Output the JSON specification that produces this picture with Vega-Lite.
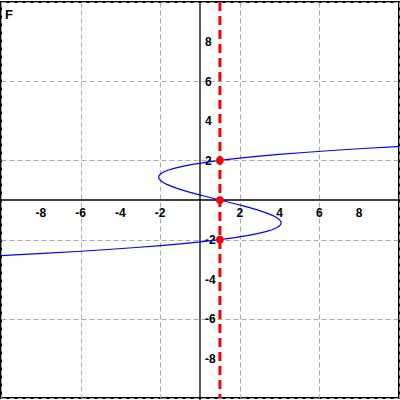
{
  "$schema": "https://vega.github.io/schema/vega-lite/v6.json",
  "width": 400,
  "height": 400,
  "padding": 0,
  "autosize": {"type": "fit", "contains": "padding"},
  "background": "white",
  "view": {"stroke": "black", "strokeWidth": 2},
  "config": {"font": "Liberation Sans"},
  "datasets": {
    "curve": [
      {"cy": -2.9, "cx": -11.789}, {"cy": -2.8, "cx": -9.752}, {"cy": -2.7, "cx": -7.883}, {"cy": -2.6, "cx": -6.176},
      {"cy": -2.5, "cx": -4.625}, {"cy": -2.4, "cx": -3.224}, {"cy": -2.3, "cx": -1.967}, {"cy": -2.2, "cx": -0.848},
      {"cy": -2.1, "cx": 0.139}, {"cy": -2.0, "cx": 1.0}, {"cy": -1.9, "cx": 1.741}, {"cy": -1.8, "cx": 2.368},
      {"cy": -1.7, "cx": 2.887}, {"cy": -1.6, "cx": 3.304}, {"cy": -1.5, "cx": 3.625}, {"cy": -1.4, "cx": 3.856},
      {"cy": -1.3, "cx": 4.003}, {"cy": -1.2, "cx": 4.072}, {"cy": -1.1, "cx": 4.069}, {"cy": -1.0, "cx": 4.0},
      {"cy": -0.9, "cx": 3.871}, {"cy": -0.8, "cx": 3.688}, {"cy": -0.7, "cx": 3.457}, {"cy": -0.6, "cx": 3.184},
      {"cy": -0.5, "cx": 2.875}, {"cy": -0.4, "cx": 2.536}, {"cy": -0.3, "cx": 2.173}, {"cy": -0.2, "cx": 1.792},
      {"cy": -0.1, "cx": 1.399}, {"cy": 0.0, "cx": 1.0}, {"cy": 0.1, "cx": 0.601}, {"cy": 0.2, "cx": 0.208},
      {"cy": 0.3, "cx": -0.173}, {"cy": 0.4, "cx": -0.536}, {"cy": 0.5, "cx": -0.875}, {"cy": 0.6, "cx": -1.184},
      {"cy": 0.7, "cx": -1.457}, {"cy": 0.8, "cx": -1.688}, {"cy": 0.9, "cx": -1.871}, {"cy": 1.0, "cx": -2.0},
      {"cy": 1.1, "cx": -2.069}, {"cy": 1.2, "cx": -2.072}, {"cy": 1.3, "cx": -2.003}, {"cy": 1.4, "cx": -1.856},
      {"cy": 1.5, "cx": -1.625}, {"cy": 1.6, "cx": -1.304}, {"cy": 1.7, "cx": -0.887}, {"cy": 1.8, "cx": -0.368},
      {"cy": 1.9, "cx": 0.259}, {"cy": 2.0, "cx": 1.0}, {"cy": 2.1, "cx": 1.861}, {"cy": 2.2, "cx": 2.848},
      {"cy": 2.3, "cx": 3.967}, {"cy": 2.4, "cx": 5.224}, {"cy": 2.5, "cx": 6.625}, {"cy": 2.6, "cx": 8.176},
      {"cy": 2.7, "cx": 9.883}, {"cy": 2.8, "cx": 11.752}
    ],
    "xlabels": [
      {"v": -8, "t": "-8"}, {"v": -6, "t": "-6"}, {"v": -4, "t": "-4"}, {"v": -2, "t": "-2"},
      {"v": 2, "t": "2"}, {"v": 4, "t": "4"}, {"v": 6, "t": "6"}, {"v": 8, "t": "8"}
    ],
    "ylabels": [
      {"v": -8, "t": "-8"}, {"v": -6, "t": "-6"}, {"v": -4, "t": "-4"}, {"v": -2, "t": "-2"},
      {"v": 2, "t": "2"}, {"v": 4, "t": "4"}, {"v": 6, "t": "6"}, {"v": 8, "t": "8"}
    ],
    "pts": [{"px": 1, "py": 2}, {"px": 1, "py": 0}, {"px": 1, "py": -2}],
    "origin": [{"o": 0, "vx": 1, "name": "F", "left": -10, "top": 10}]
  },
  "layer": [
    {
      "data": {"name": "origin"},
      "mark": {"type": "rule", "color": "black", "strokeWidth": 1.3},
      "encoding": {
        "x": {"field": "o", "type": "quantitative", "scale": {"domain": [-10, 10], "nice": false, "zero": false},
          "axis": {"grid": true, "values": [-10, -8, -6, -4, -2, 0, 2, 4, 6, 8, 10], "gridDash": [5, 3], "gridColor": "#aaaaaa", "gridOpacity": 1, "gridWidth": 1, "labels": false, "ticks": false, "domain": false, "title": null}},
        "y": {"value": 0},
        "y2": {"value": 400}
      }
    },
    {
      "data": {"name": "origin"},
      "mark": {"type": "rule", "color": "black", "strokeWidth": 1.3},
      "encoding": {
        "y": {"field": "o", "type": "quantitative", "scale": {"domain": [-10, 10], "nice": false, "zero": false},
          "axis": {"grid": true, "values": [-10, -8, -6, -4, -2, 0, 2, 4, 6, 8, 10], "gridDash": [5, 3], "gridColor": "#aaaaaa", "gridOpacity": 1, "gridWidth": 1, "labels": false, "ticks": false, "domain": false, "title": null}},
        "x": {"value": 0},
        "x2": {"value": 400}
      }
    },
    {
      "data": {"name": "xlabels"},
      "mark": {"type": "text", "fontWeight": "bold", "fontSize": 12, "align": "center", "baseline": "alphabetic", "dy": 16.5, "color": "black"},
      "encoding": {
        "x": {"field": "v", "type": "quantitative"},
        "y": {"datum": 0, "type": "quantitative"},
        "text": {"field": "t"}
      }
    },
    {
      "data": {"name": "ylabels"},
      "mark": {"type": "text", "fontWeight": "bold", "fontSize": 12, "align": "left", "baseline": "alphabetic", "dx": 5, "dy": 4.5, "color": "black"},
      "encoding": {
        "y": {"field": "v", "type": "quantitative"},
        "x": {"datum": 0, "type": "quantitative"},
        "text": {"field": "t"}
      }
    },
    {
      "data": {"name": "curve"},
      "mark": {"type": "line", "color": "#0000ff", "strokeWidth": 1.2, "clip": true},
      "encoding": {
        "x": {"field": "cx", "type": "quantitative"},
        "y": {"field": "cy", "type": "quantitative"},
        "order": {"field": "cy", "type": "quantitative"}
      }
    },
    {
      "data": {"name": "origin"},
      "mark": {"type": "rule", "color": "#ff0000", "strokeWidth": 3, "strokeDash": [9, 5]},
      "encoding": {
        "x": {"field": "vx", "type": "quantitative"}
      }
    },
    {
      "data": {"name": "pts"},
      "mark": {"type": "circle", "color": "#ff0000", "opacity": 1, "size": 60},
      "encoding": {
        "x": {"field": "px", "type": "quantitative"},
        "y": {"field": "py", "type": "quantitative"}
      }
    },
    {
      "data": {"name": "origin"},
      "mark": {"type": "text", "fontWeight": "bold", "fontSize": 13, "align": "left", "baseline": "alphabetic", "dx": 4, "dy": 17, "color": "black"},
      "encoding": {
        "x": {"field": "left", "type": "quantitative"},
        "y": {"field": "top", "type": "quantitative"},
        "text": {"field": "name"}
      }
    }
  ]
}
